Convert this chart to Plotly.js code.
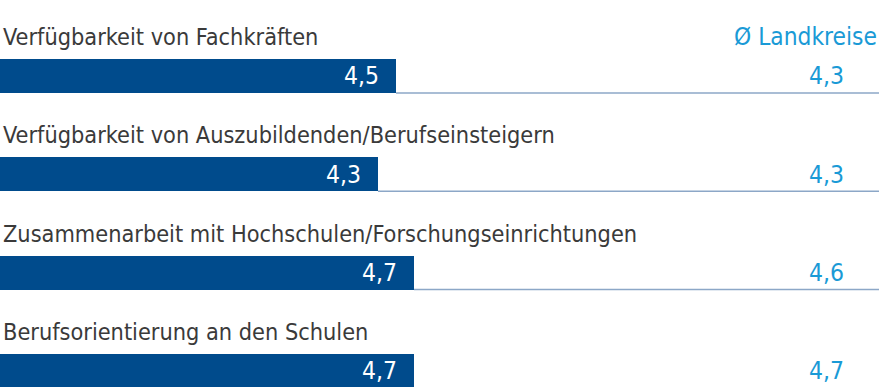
<!DOCTYPE html>
<html>
<head>
<meta charset="utf-8">
<script src="https://cdn.plot.ly/plotly-3.0.1.min.js"></script>
<style>html,body{margin:0;padding:0;background:#fff;}#chart{width:879px;height:387px;}</style>
</head>
<body>
<div id="chart"></div>
<script>
const categories = [
  "Verfügbarkeit von Fachkräften",
  "Verfügbarkeit von Auszubildenden/Berufseinsteigern",
  "Zusammenarbeit mit Hochschulen/Forschungseinrichtungen",
  "Berufsorientierung an den Schulen"
];
const values = [4.5, 4.3, 4.7, 4.7];
const landkreise = [4.3, 4.3, 4.6, 4.7];
const headerLabel = "Ø Landkreise";

const FONT = '"Liberation Sans Narrow", "DejaVu Sans Condensed", "Open Sans", sans-serif';
const barColor = '#004b8c';
const lightBlue = '#1a9ad6';
const lineColor = '#8ca7c7';
const textColor = '#3a3a3a';
const xMax = 9.867;
const barW = 0.346;
const fmt = v => v.toFixed(1).replace('.', ',');
const idx = categories.map((_, i) => i);

const trace = {
  type: 'bar',
  orientation: 'h',
  x: values,
  y: idx,
  width: barW,
  marker: {color: barColor, line: {width: 0}},
  hoverinfo: 'skip'
};

const annotations = [];
const shapes = [];
categories.forEach((c, i) => {
  annotations.push({
    xref: 'paper', yref: 'y', x: 0, y: i - 0.4,
    xanchor: 'left', yanchor: 'middle', showarrow: false, xshift: 1,
    text: c, font: {family: FONT, size: 23.3, color: textColor}
  });
  annotations.push({
    xref: 'x', yref: 'y', x: values[i], y: i,
    xanchor: 'right', yanchor: 'middle', xshift: -15, showarrow: false,
    text: fmt(values[i]), font: {family: FONT, size: 24.5, color: '#ffffff'}
  });
  annotations.push({
    xref: 'paper', yref: 'y', x: 0.94, y: i,
    xanchor: 'center', yanchor: 'middle', showarrow: false,
    text: fmt(landkreise[i]), font: {family: FONT, size: 24.5, color: lightBlue}
  });
  shapes.push({
    type: 'line', xref: 'x', yref: 'y',
    x0: values[i], x1: xMax, y0: i + barW / 2, y1: i + barW / 2,
    line: {color: lineColor, width: 1.5}
  });
});
annotations.push({
  xref: 'paper', yref: 'y', x: 1, y: -0.4,
  xanchor: 'right', yanchor: 'middle', showarrow: false,
  text: headerLabel, font: {family: FONT, size: 24.3, color: lightBlue}
});

const layout = {
  width: 879, height: 387,
  margin: {l: 0, r: 0, t: 0, b: 0, pad: 0},
  paper_bgcolor: '#ffffff', plot_bgcolor: '#ffffff',
  showlegend: false,
  separators: ',.',
  xaxis: {range: [0.1, xMax], visible: false, fixedrange: true},
  yaxis: {range: [3.164, -0.773], visible: false, fixedrange: true},
  bargap: 0,
  annotations: annotations,
  shapes: shapes
};

Plotly.newPlot('chart', [trace], layout, {displayModeBar: false, staticPlot: true});
</script>
</body>
</html>
